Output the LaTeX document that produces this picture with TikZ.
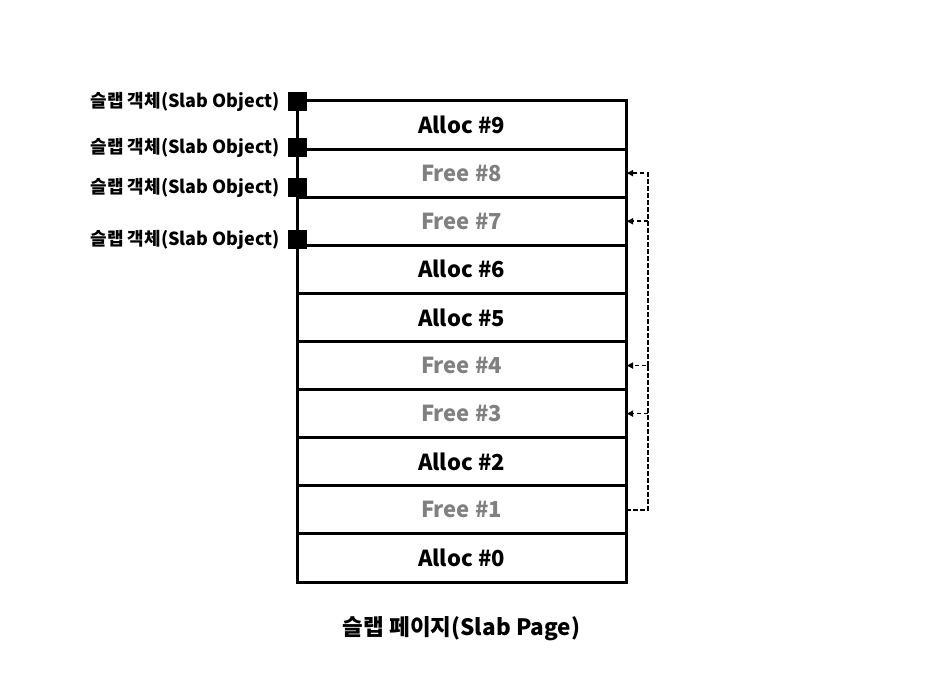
\documentclass[tikz,border=0pt]{standalone}
\usepackage{fontspec}
\setmainfont{Noto Sans CJK KR}
\usetikzlibrary{positioning,arrows.meta}

\tikzset{
  slot/.style={draw=black, line width=3pt, minimum width=329pt, minimum height=48.1pt,
    outer sep=0pt, inner sep=0pt, font=\fontsize{22}{26}\selectfont\bfseries},
  alloc/.style={slot, text=black},
  free/.style={slot, text=gray},
  objmark/.style={fill=black, minimum size=19pt, inner sep=0pt},
  objlabel/.style={anchor=east, inner sep=0pt, font=\fontsize{18}{21}\selectfont\bfseries},
  link/.style={dash pattern=on 4.5pt off 2.5pt, line width=1.5pt, -{Latex[length=7pt,width=7pt]}}
}

\begin{document}
\begin{tikzpicture}[x=1pt, y=-1pt]
\useasboundingbox (0,0) rectangle (947,684);
% slab page, top to bottom
\node[alloc] (alloc9) at (461.5,125.05) {Alloc \#9};
\node[free, below=0pt of alloc9] (free8) {Free \#8};
\node[free, below=0pt of free8] (free7) {Free \#7};
\node[alloc, below=0pt of free7] (alloc6) {Alloc \#6};
\node[alloc, below=0pt of alloc6] (alloc5) {Alloc \#5};
\node[free, below=0pt of alloc5] (free4) {Free \#4};
\node[free, below=0pt of free4] (free3) {Free \#3};
\node[alloc, below=0pt of free3] (alloc2) {Alloc \#2};
\node[free, below=0pt of alloc2] (free1) {Free \#1};
\node[alloc, below=0pt of free1] (alloc0) {Alloc \#0};
\node[below=31pt of alloc0, font=\fontsize{22.5}{26}\selectfont\bfseries] (caption) {슬랩 페이지(Slab Page)};
% slab objects
\node[objmark] (obj1) at (297,102) {};
\node[objmark] (obj2) at (297,148) {};
\node[objmark] (obj3) at (297,187.5) {};
\node[objmark] (obj4) at (297,240) {};
\node[objlabel] (lab1) at (280,102) {슬랩 객체(Slab Object)};
\node[objlabel] (lab2) at (280,148) {슬랩 객체(Slab Object)};
\node[objlabel] (lab3) at (280,187.5) {슬랩 객체(Slab Object)};
\node[objlabel] (lab4) at (280,240) {슬랩 객체(Slab Object)};
% free list
\coordinate (rail) at ([xshift=22pt]free1.east);
\draw[link] (free1.east) -- (rail) |- (free4.east);
\draw[link] (rail |- free3.east) -- (free3.east);
\draw[link] (rail |- free4.east) |- (free8.east);
\draw[link] (rail |- free7.east) -- (free7.east);
\end{tikzpicture}
\end{document}
